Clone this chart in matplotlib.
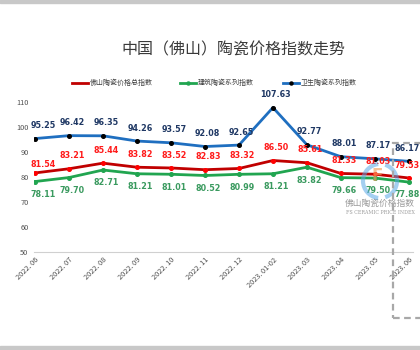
import matplotlib
matplotlib.use("Agg")
import matplotlib.pyplot as plt
from matplotlib.patches import Rectangle, Arc

plt.rcParams['font.family'] = ['Noto Sans CJK SC', 'DejaVu Sans']

categories = ["2022. 06", "2022. 07", "2022. 08", "2022. 09", "2022. 10", "2022. 11",
              "2022. 12", "2023. 01-02", "2023. 03", "2023. 04", "2023. 05", "2023. 06"]
total_index = [81.54, 83.21, 85.44, 83.82, 83.52, 82.83, 83.32, 86.50, 85.61, 81.33, 81.03, 79.53]
building_index = [78.11, 79.70, 82.71, 81.21, 81.01, 80.52, 80.99, 81.21, 83.82, 79.66, 79.50, 77.88]
sanitary_index = [95.25, 96.42, 96.35, 94.26, 93.57, 92.08, 92.65, 107.63, 92.77, 88.01, 87.17, 86.17]
yticks = [50, 60, 70, 80, 90, 100, 110]
series_names = ["佛山陶瓷价格总指数", "建筑陶瓷系列指数", "卫生陶瓷系列指数"]
title = "中国（佛山）陶瓷价格指数走势"

W, H = 420, 350
fig = plt.figure(figsize=(4.2, 3.5), dpi=100)
fig.patch.set_facecolor("white")

# gray bands top and bottom
fig.add_artist(Rectangle((0, 1 - 3 / H), 1, 3 / H, transform=fig.transFigure, color="#c8c8c8", zorder=0))
fig.add_artist(Rectangle((0, 0), 1, 4 / H, transform=fig.transFigure, color="#c8c8c8", zorder=0))

left, right = 34 / W, 413 / W
bottom, top = 1 - 252 / H, 1 - 101.6 / H
ax = fig.add_axes([left, bottom, right - left, top - bottom])
x = list(range(len(categories)))
ax.set_xlim(-0.03, 11.12)
ax.set_ylim(50, 110)

red, green, blue = "#c00000", "#21a550", "#1f6fc0"
ax.plot(x, total_index, color=red, lw=2.0, marker="o", ms=2.6, mfc="#ff0000", mec="#ff0000", zorder=3)
ax.plot(x, building_index, color=green, lw=2.0, marker="o", ms=2.6, mfc=green, mec=green, zorder=3)
ax.plot(x, sanitary_index, color=blue, lw=2.0, marker="o", ms=2.6, mfc="black", mec="black", zorder=3)

lab_kw = dict(ha="center", fontsize=5.8, fontweight="bold", family=["DejaVu Sans"], zorder=5)
n = len(x)


def dx_for(i):
    if i == 0:
        return 6
    if i == n - 1:
        return -1
    return 2


for i, v in enumerate(sanitary_index):
    ax.annotate(f"{v:.2f}", (i, v), xytext=(dx_for(i), 6), textcoords="offset points", va="bottom",
                color="#1f3864", **lab_kw)
for i, v in enumerate(total_index):
    dy = 3 if i == 0 else 6
    ax.annotate(f"{v:.2f}", (i, v), xytext=(dx_for(i), dy), textcoords="offset points", va="bottom",
                color="#ff1a1a", **lab_kw)
for i, v in enumerate(building_index):
    ax.annotate(f"{v:.2f}", (i, v), xytext=(dx_for(i), -6), textcoords="offset points", va="top",
                color="#3a9a5f", **lab_kw)

for s in ["top", "right", "left"]:
    ax.spines[s].set_visible(False)
ax.spines["bottom"].set_color("#d0d0d0")
ax.spines["bottom"].set_linewidth(0.8)
ax.set_yticks(yticks)
ax.set_yticklabels([str(t) for t in yticks], fontsize=5.3, color="#505050")
ax.tick_params(axis="y", length=0, pad=4)
ax.set_xticks(x)
ax.set_xticklabels(categories, rotation=45, ha="right", rotation_mode="anchor",
                   fontsize=5.3, color="#505050")
ax.tick_params(axis="x", length=0, pad=3)

fig.text(233 / W, 1 - 50 / H, title, ha="center", va="center", fontsize=11.5, color="#3a3a3a")

# legend
ly = 1 - 83 / H
for (x0, col, mk, name) in [(72, red, None, series_names[0]), (180, green, green, series_names[1]),
                             (283, blue, "black", series_names[2])]:
    fig.add_artist(plt.Line2D([x0 / W, (x0 + 16) / W], [ly, ly], transform=fig.transFigure,
                              color=col, lw=2.0))
    if mk:
        fig.add_artist(plt.Line2D([(x0 + 8) / W], [ly], transform=fig.transFigure, marker="o",
                                  ms=2.2, color=mk, lw=0))
    fig.text((x0 + 18) / W, ly, name, ha="left", va="center", fontsize=5.0, color="#404040")

# dashed highlight box
fig.add_artist(Rectangle((393 / W, 1 - 318 / H), 40 / W, 175 / H, transform=fig.transFigure,
                         fill=False, ec="#a8a8a8", lw=1.6, ls=(0, (3, 2)), zorder=6))

# watermark logo
cx, cy, r = 380, 181, 34
fig.add_artist(Arc((cx / W, 1 - cy / H), r / W, r / H, theta1=95, theta2=265,
                   transform=fig.transFigure, color="#5aa9e6", lw=3, alpha=0.55, zorder=4))
fig.add_artist(Arc((cx / W, 1 - cy / H), r / W, r / H, theta1=285, theta2=75,
                   transform=fig.transFigure, color="#5aa9e6", lw=3, alpha=0.55, zorder=4))
fig.text(377 / W, 1 - 176 / H, "F", ha="center", va="center", fontsize=12, fontweight="bold",
         color="#f0a060", alpha=0.65, family=["DejaVu Sans"], zorder=4)
fig.text(380 / W, 1 - 203 / H, "佛山陶瓷价格指数", ha="center", va="center", fontsize=6.3,
         color="#8a8a8a", alpha=0.85)
fig.text(380 / W, 1 - 212 / H, "FS CERAMIC PRICE INDEX", ha="center", va="center", fontsize=3.4,
         color="#8a8a8a", alpha=0.85, family=["DejaVu Serif"])

fig.savefig("out.png", dpi=100, facecolor="white")
